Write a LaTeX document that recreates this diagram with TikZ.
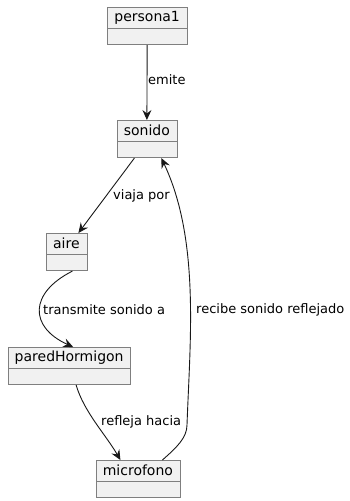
\documentclass[tikz,border=0pt]{standalone}
\usepackage{fontspec}
\setmainfont{DejaVu Sans}
\usetikzlibrary{arrows.meta}

\definecolor{objfill}{HTML}{F1F1F1}
\definecolor{objline}{HTML}{7F7F7F}
\definecolor{flecha}{HTML}{181818}

% objeto: nombre, izquierda, arriba, ancho, texto
\newcommand{\objeto}[5]{%
    \node[objhead, minimum width=#4pt, anchor=north west] (#1) at (#2,#3) {#5};
    \node[objbody, minimum width=#4pt, anchor=north] (#1b) at (#1.south) {};
}

\begin{document}
\begin{tikzpicture}[x=1pt,y=-1pt,
                    objhead/.style={draw=objline, fill=objfill, line width=0.8pt, inner sep=0pt,
                                    minimum height=20.5pt, font=\fontsize{14}{14}\selectfont},
                    objbody/.style={draw=objline, fill=objfill, line width=0.8pt, inner sep=0pt,
                                    minimum height=16pt},
                    rel/.style={draw=flecha, line width=0.9pt, -{Stealth[length=10pt,width=9pt,inset=3.5pt]}},
                    etiq/.style={anchor=west, inner sep=0pt, font=\fontsize{13}{13}\selectfont}]
                    \useasboundingbox (0,0) rectangle (349,501);

                    \objeto{persona}{106.5}{7}{80.5}{persona1}
                    \objeto{sonido}{116.5}{120}{60}{sonido}
                    \objeto{aire}{45.5}{233}{41}{aire}
                    \objeto{pared}{7.5}{347}{122.5}{paredHormigon}
                    \objeto{micro}{95.5}{460}{84}{microfono}

                    \draw[rel] (personab.south) -- (sonido.north);
                    \node[etiq] (l1) at (148,80) {emite};

                    \draw[rel] ([xshift=-12.5pt]sonidob.south) -- ([xshift=12pt]aire.north);
                    \node[etiq] (l2) at (113,196) {viaja por};

                    \draw[rel] ([xshift=6pt]aireb.south) .. controls (29,293) and (29,327) .. ([xshift=4pt]pared.north);
                    \node[etiq] (l3) at (43,310) {transmite sonido a};

                    \draw[rel] ([xshift=7pt]paredb.south) .. controls (84,412) and (106,435) .. ([xshift=-17.5pt]micro.north);
                    \node[etiq] (l4) at (101,422) {refleja hacia};

                    % vuelta del microfono al sonido
                    \draw[rel] ([xshift=24.5pt]micro.north) .. controls (176,448) and (187,438) .. (187,425)
                               .. controls (190,340) and (200,240) .. ([xshift=14.5pt]sonidob.south);
                    \node[etiq] (l5) at (196,310) {recibe sonido reflejado};
                \end{tikzpicture}
\end{document}
